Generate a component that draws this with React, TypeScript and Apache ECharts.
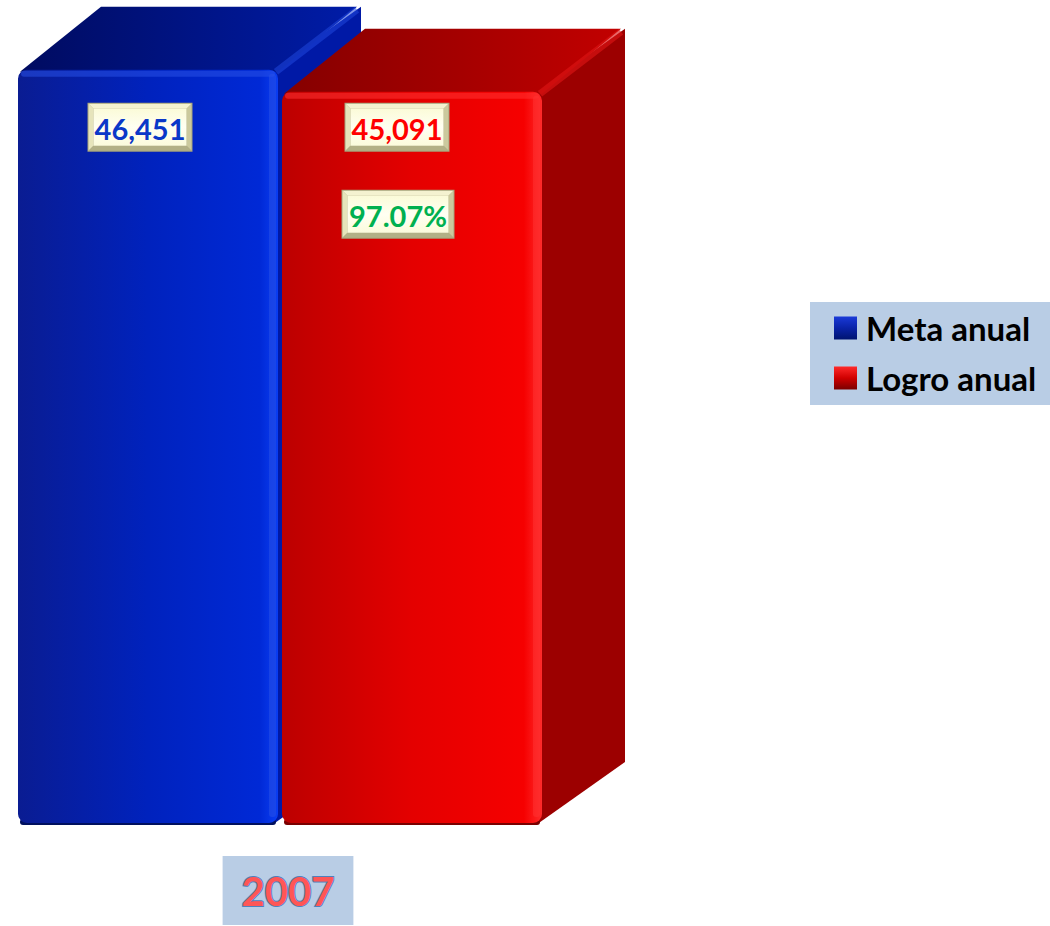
import React, { useEffect, useRef } from "react";
import * as echarts from "echarts";

const categories = ["2007"];
const seriesNames = ["Meta anual", "Logro anual"];
const metaValues = [46451];
const logroValues = [45091];
const axisMax = 50000;

const percentValues = logroValues.map((v, i) => (v / metaValues[i]) * 100);

const FONT = "Lato, 'DejaVu Sans', sans-serif";

type Pal = {
  frontStops: [number, string][];
  top: [string, string];
  side: string;
  rim: string;
  edge: string;
  bottom: string;
};

const bluePal: Pal = {
  frontStops: [
    [0, "#0a1c92"],
    [0.5, "#0022bd"],
    [0.93, "#0029d6"],
    [1, "#0a3df2"],
  ],
  top: ["#000b60", "#001ca8"],
  side: "#0019a6",
  rim: "rgba(40,80,230,0.55)",
  edge: "rgba(30,70,220,0.7)",
  bottom: "#00105e",
};

const redPal: Pal = {
  frontStops: [
    [0, "#bc0000"],
    [0.5, "#e40000"],
    [0.93, "#f60000"],
    [1, "#ff2a2a"],
  ],
  top: ["#850000", "#c20000"],
  side: "#9c0000",
  rim: "rgba(255,50,50,0.55)",
  edge: "rgba(220,20,20,0.8)",
  bottom: "#7a0000",
};

function lin(x2: number, y2: number, stops: [number, string][]) {
  return new echarts.graphic.LinearGradient(
    0,
    0,
    x2,
    y2,
    stops.map(([offset, color]) => ({ offset, color }))
  );
}

function labelBox(cx: number, top: number, w: number, h: number, text: string, color: string) {
  const x = cx - w / 2;
  const y = top;
  const b = 5;
  const x1 = x + 1, y1 = y + 1, x2 = x + w - 1, y2 = y + h - 1;
  return [
    { type: "rect", shape: { x, y, width: w, height: h }, style: { fill: "#a4a27a" } },
    { type: "polygon", shape: { points: [[x1, y1], [x2, y1], [x2 - b, y1 + b], [x1 + b, y1 + b]] }, style: { fill: "#f4f2d0" } },
    { type: "polygon", shape: { points: [[x1, y1], [x1 + b, y1 + b], [x1 + b, y2 - b], [x1, y2]] }, style: { fill: "#e6e4bb" } },
    { type: "polygon", shape: { points: [[x2, y1], [x2, y2], [x2 - b, y2 - b], [x2 - b, y1 + b]] }, style: { fill: "#cbc99d" } },
    { type: "polygon", shape: { points: [[x1, y2], [x2, y2], [x2 - b, y2 - b], [x1 + b, y2 - b]] }, style: { fill: "#b2b086" } },
    {
      type: "rect",
      shape: { x: x1 + b, y: y1 + b, width: w - 2 - 2 * b, height: h - 2 - 2 * b },
      style: { fill: lin(0, 1, [[0, "#fbfbd8"], [0.5, "#fffff2"], [1, "#fbfbdc"]]) },
    },
    {
      type: "text",
      x: cx,
      y: y + h / 2 + 1,
      style: {
        text,
        fill: color,
        fontSize: 29,
        fontWeight: "bold",
        fontFamily: FONT,
        align: "center",
        verticalAlign: "middle",
      },
    },
  ];
}

function makeRender(kind: 0 | 1) {
  return (params: any, api: any) => {
    const cat = api.value(0);
    const val = api.value(1);
    const base = api.coord([cat, 0]);
    const cx = base[0];
    const yBase = base[1];
    const yTop = api.coord([cat, val])[1];
    const W = 260;
    const DX = 83;
    const DY = 63;
    const L = kind === 0 ? cx - 270 : cx - 6;
    const R = L + W;
    const pal = kind === 0 ? bluePal : redPal;
    const children: any[] = [];

    // side face
    children.push({
      type: "polygon",
      shape: { points: [[R - 6, yTop], [R + DX, yTop - DY], [R + DX, yBase - DY], [R - 6, yBase]] },
      style: { fill: pal.side },
    });
    // top face
    children.push({
      type: "polygon",
      shape: { points: [[L + 2, yTop + 2], [L + DX, yTop - DY], [R + DX - 4, yTop - DY], [R, yTop + 2]] },
      style: { fill: lin(1, 0, [[0, pal.top[0]], [1, pal.top[1]]]) },
    });
    // diagonal edge between top and side
    children.push({
      type: "line",
      shape: { x1: R - 2, y1: yTop + 2, x2: R + DX - 4, y2: yTop - DY + 3 },
      style: { stroke: pal.edge, lineWidth: 7, opacity: 0.8 },
    });
    // bottom shadow line
    children.push({
      type: "rect",
      shape: { x: L + 2, y: yBase - 6, width: W - 4, height: 6, r: 4 },
      style: { fill: pal.bottom },
    });
    // front face
    children.push({
      type: "rect",
      shape: { x: L, y: yTop, width: W, height: yBase - yTop - 2, r: 9 },
      style: { fill: lin(1, 0, pal.frontStops) },
    });
    // top rim highlight
    children.push({
      type: "rect",
      shape: { x: L + 3, y: yTop + 1, width: W - 6, height: 6, r: 3 },
      style: { fill: pal.rim },
    });
    // right rim highlight
    children.push({
      type: "rect",
      shape: { x: R - 9, y: yTop + 4, width: 7, height: yBase - yTop - 12, r: 3 },
      style: { fill: pal.rim },
    });

    const i = params.dataIndex;
    if (kind === 0) {
      children.push(
        ...labelBox(L + 122, yTop + 33, 105, 49, metaValues[i].toLocaleString("en-US"), "#0a38c8")
      );
    } else {
      children.push(
        ...labelBox(L + 115, yTop + 11, 105, 49, logroValues[i].toLocaleString("en-US"), "#ff0000")
      );
      children.push(
        ...labelBox(L + 116, yTop + 98, 113, 49, percentValues[i].toFixed(2) + "%", "#00b050")
      );
    }

    return { type: "group", children };
  };
}

export default function App() {
  const ref = useRef<HTMLDivElement>(null);

  useEffect(() => {
    if (!ref.current) return;
    const chart = echarts.init(ref.current, undefined, { renderer: "svg" });

    const blueIcon = lin(0, 1, [[0, "#1a3ad8"], [0.5, "#0a23a8"], [1, "#001470"]]);
    const redIcon = lin(0, 1, [[0, "#ff2a2a"], [0.5, "#d00000"], [1, "#7a0000"]]);

    chart.setOption({
      animation: false,
      backgroundColor: "#ffffff",
      grid: { left: 18, width: 540, top: 12, bottom: 101 },
      legend: {
        orient: "vertical",
        left: 810,
        top: 302,
        backgroundColor: "#b9cde5",
        padding: [8, 20, 9, 24],
        itemWidth: 23,
        itemHeight: 23,
        itemGap: 14,
        icon: "rect",
        textStyle: {
          fontSize: 33,
          fontWeight: "bold",
          fontFamily: FONT,
          color: "#000000",
          lineHeight: 36,
          padding: [0, 0, 0, 4],
        },
        data: [
          { name: seriesNames[0], itemStyle: { color: blueIcon } },
          { name: seriesNames[1], itemStyle: { color: redIcon } },
        ],
      },
      xAxis: {
        type: "category",
        data: categories,
        axisLine: { show: false },
        axisTick: { show: false },
        axisLabel: {
          margin: 31,
          fontSize: 40,
          fontWeight: "bold",
          fontFamily: FONT,
          color: "#ff5656",
          textBorderColor: "#4f81bd",
          textBorderWidth: 2,
          backgroundColor: "#b9cde5",
          lineHeight: 43,
          padding: [13, 19, 13, 19],
        },
      },
      yAxis: {
        type: "value",
        min: 0,
        max: axisMax,
        interval: 5000,
        show: false,
        splitLine: { show: false },
      },
      series: [
        {
          type: "custom",
          name: seriesNames[0],
          itemStyle: { color: blueIcon },
          encode: { x: 0, y: 1 },
          data: metaValues.map((v, i) => [i, v]),
          renderItem: makeRender(0),
          clip: false,
        },
        {
          type: "custom",
          name: seriesNames[1],
          itemStyle: { color: redIcon },
          encode: { x: 0, y: 1 },
          data: logroValues.map((v, i) => [i, v]),
          renderItem: makeRender(1),
          clip: false,
        },
      ],
    });

    return () => chart.dispose();
  }, []);

  return (
    <div
      ref={ref}
      style={{ position: "fixed", left: 0, top: 0, width: 1050, height: 926 }}
    />
  );
}
